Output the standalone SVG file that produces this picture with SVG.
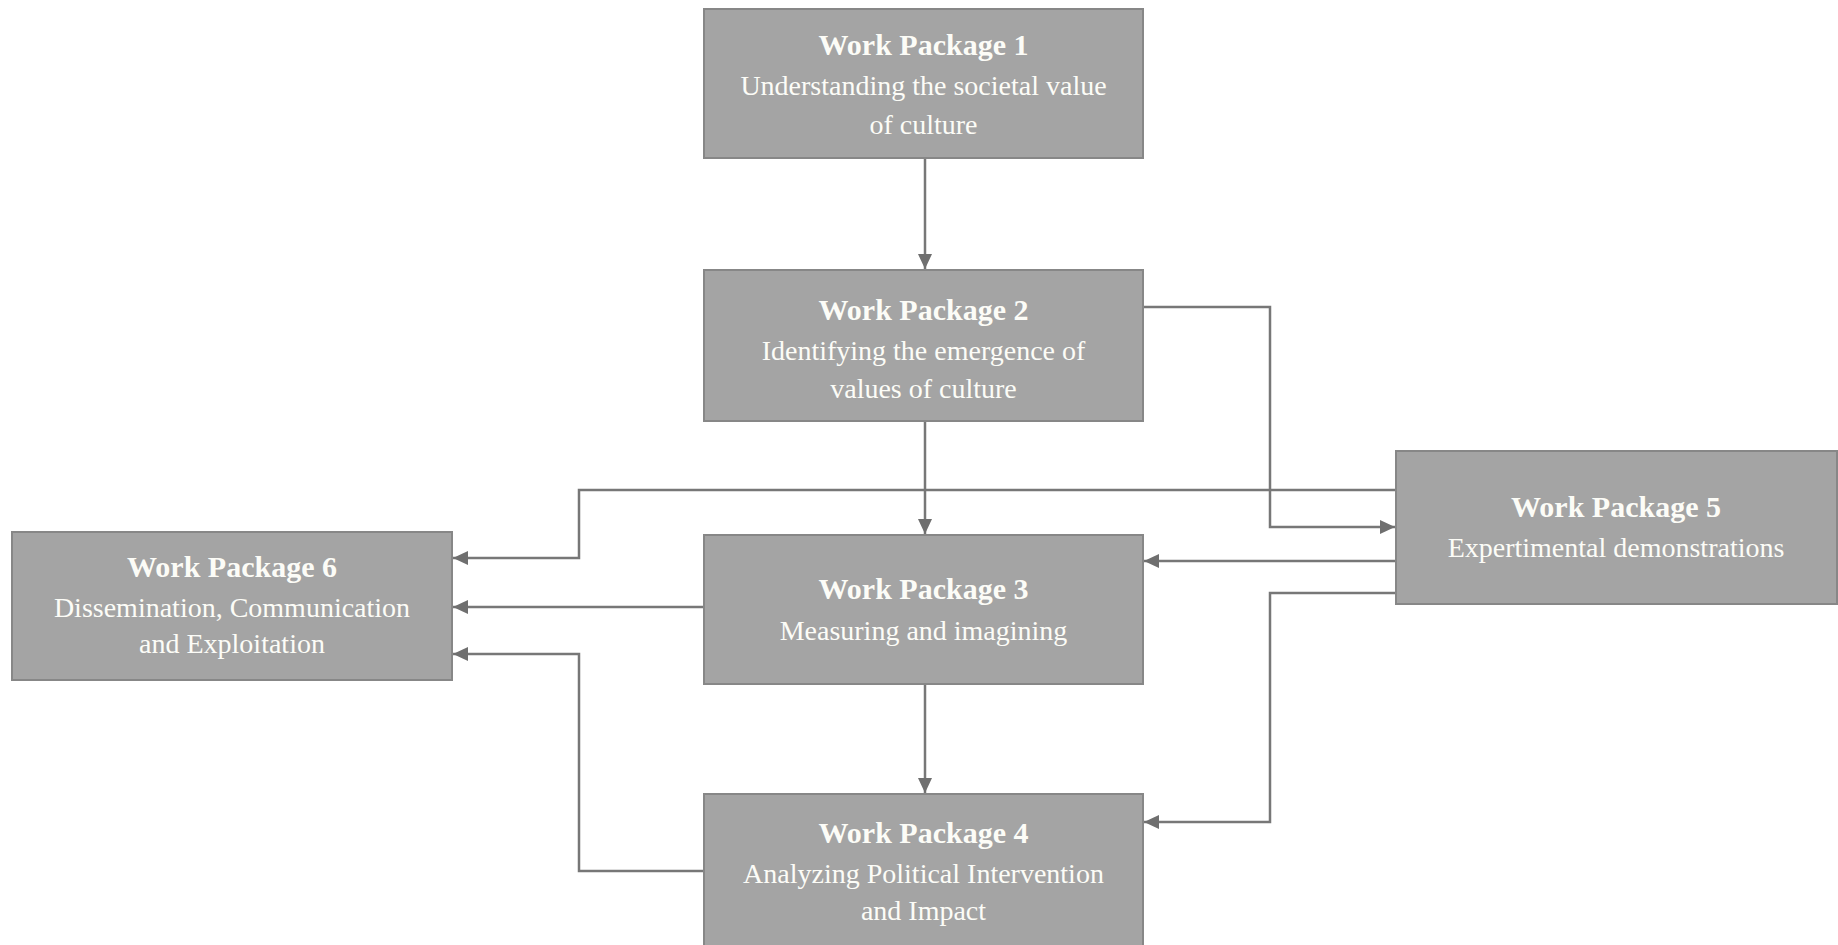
<svg xmlns="http://www.w3.org/2000/svg" width="1838" height="945" viewBox="0 0 1838 945">
<style>
.box{fill:#a4a4a4;stroke:#878787;stroke-width:2}
.t{font-family:"Liberation Serif","Times New Roman",serif;fill:#fcfcf7;text-anchor:middle}
.h{font-weight:bold;font-size:30px}
.s{font-size:28px}
.c{fill:none;stroke:#777;stroke-width:2.5}
</style>
<defs>
<marker id="ah" markerUnits="userSpaceOnUse" markerWidth="16" markerHeight="14" refX="15" refY="7" orient="auto">
<path d="M0,0 L15,7 L0,14 z" fill="#6f6f6f"/>
</marker>
</defs>
<rect width="1838" height="945" fill="#fff"/>
<g id="connectors">
<path class="c" d="M925,159 V269" marker-end="url(#ah)"/>
<path class="c" d="M925,422 V534" marker-end="url(#ah)"/>
<path class="c" d="M925,684 V793" marker-end="url(#ah)"/>
<path class="c" d="M1143,307 H1270 V527 H1395" marker-end="url(#ah)"/>
<path class="c" d="M1396,490 H579 V558 H453" marker-end="url(#ah)"/>
<path class="c" d="M1396,561 H1144" marker-end="url(#ah)"/>
<path class="c" d="M704,607 H453" marker-end="url(#ah)"/>
<path class="c" d="M1396,593 H1270 V822 H1144" marker-end="url(#ah)"/>
<path class="c" d="M704,871 H579 V654 H453" marker-end="url(#ah)"/>
</g>
<g id="wp1">
<rect class="box" x="704" y="9" width="439" height="149"/>
<text class="t h" x="923.5" y="55">Work Package 1</text>
<text class="t s" x="923.5" y="95">Understanding the societal value</text>
<text class="t s" x="923.5" y="134">of culture</text>
</g>
<g id="wp2">
<rect class="box" x="704" y="270" width="439" height="151"/>
<text class="t h" x="923.5" y="320">Work Package 2</text>
<text class="t s" x="923.5" y="360">Identifying the emergence of</text>
<text class="t s" x="923.5" y="398">values of culture</text>
</g>
<g id="wp3">
<rect class="box" x="704" y="535" width="439" height="149"/>
<text class="t h" x="923.5" y="599">Work Package 3</text>
<text class="t s" x="923.5" y="640">Measuring and imagining</text>
</g>
<g id="wp4">
<rect class="box" x="704" y="794" width="439" height="155"/>
<text class="t h" x="923.5" y="843">Work Package 4</text>
<text class="t s" x="923.5" y="883">Analyzing Political Intervention</text>
<text class="t s" x="923.5" y="920">and Impact</text>
</g>
<g id="wp5">
<rect class="box" x="1396" y="451" width="441" height="153"/>
<text class="t h" x="1616" y="517">Work Package 5</text>
<text class="t s" x="1616" y="557">Expertimental demonstrations</text>
</g>
<g id="wp6">
<rect class="box" x="12" y="532" width="440" height="148"/>
<text class="t h" x="232" y="577">Work Package 6</text>
<text class="t s" x="232" y="617">Dissemination, Communication</text>
<text class="t s" x="232" y="653">and Exploitation</text>
</g>
</svg>
